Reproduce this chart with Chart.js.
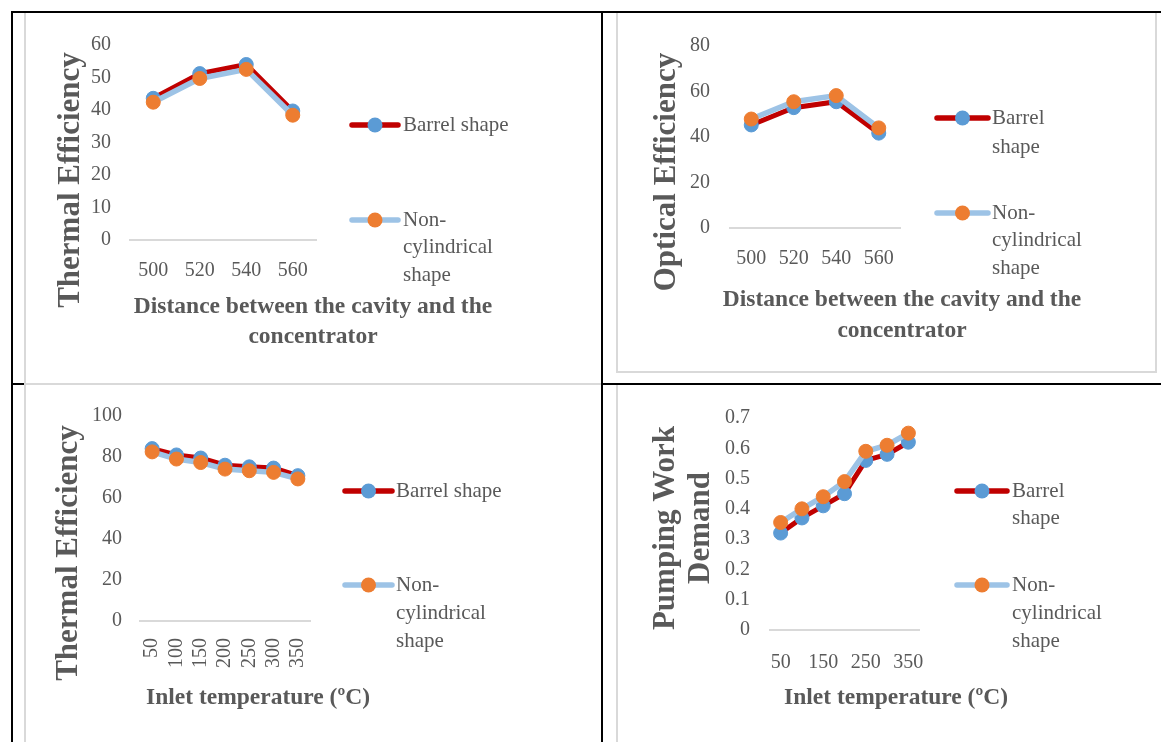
<!DOCTYPE html>
<html>
<head>
<meta charset="utf-8">
<script src="https://cdn.jsdelivr.net/npm/chart.js@4.4.1/dist/chart.umd.min.js"></script>
<style>
  body { margin: 0; background: #fff; }
  #page { position: relative; width: 1161px; height: 742px; overflow: hidden; }
  .rule { position: absolute; background: #000; }
  .frame { position: absolute; box-sizing: border-box; border: 0 solid #d9d9d9; }
  canvas { position: absolute; }
</style>
</head>
<body>
<div id="page">
  <!-- table lines -->
  <div class="rule" style="left:11px;top:11px;width:1150px;height:2px"></div>
  <div class="rule" style="left:11px;top:383px;width:1150px;height:2px"></div>
  <div class="rule" style="left:11px;top:11px;width:2px;height:731px"></div>
  <div class="rule" style="left:601px;top:11px;width:2px;height:731px"></div>
  <!-- chart area frames -->
  <div class="frame" style="left:24px;top:13px;width:577px;height:370px;border-left-width:2px"></div>
  <div class="frame" style="left:616px;top:13px;width:541px;height:360px;border-width:0 2px 2px 2px"></div>
  <div class="frame" style="left:24px;top:383px;width:577px;height:359px;border-left-width:2px;border-top-width:2px"></div>
  <div class="frame" style="left:616px;top:385px;width:545px;height:357px;border-left-width:2px"></div>

  <canvas id="thermal_dist" width="574" height="368" style="left:26px;top:14px"></canvas>
  <canvas id="optical_dist" width="536" height="356" style="left:618px;top:14px"></canvas>
  <canvas id="thermal_temp" width="574" height="356" style="left:26px;top:386px"></canvas>
  <canvas id="pump_temp" width="543" height="356" style="left:618px;top:386px"></canvas>
</div>
<script>
// data
const dist_labels = ["500", "520", "540", "560"];
const thermal_dist_barrel = [43.6, 51.2, 54.0, 39.7];
const thermal_dist_noncyl = [42.4, 49.7, 52.5, 38.4];
const optical_dist_barrel = [45.3, 52.9, 55.5, 41.7];
const optical_dist_noncyl = [47.9, 55.5, 58.2, 44.0];

const temp_labels = ["50", "100", "150", "200", "250", "300", "350"];
const thermal_temp_barrel = [84.1, 81.0, 79.5, 76.0, 75.2, 74.6, 70.9];
const thermal_temp_noncyl = [82.5, 79.0, 77.3, 74.1, 73.3, 72.5, 69.3];
const pump_temp_barrel = [0.32, 0.37, 0.41, 0.45, 0.56, 0.58, 0.62];
const pump_temp_noncyl = [0.355, 0.40, 0.44, 0.49, 0.59, 0.61, 0.65];

const series_names = ["Barrel shape", "Non-cylindrical shape"];

const FONT = '"Liberation Serif", "Times New Roman", serif';
const TEXT_COLOR = "#595959";
const BARREL_LINE = "#c00000";
const BARREL_DOT = "#5b9bd5";
const NONCYL_LINE = "#9dc3e6";
const NONCYL_DOT = "#ed7d31";

// titles and the wrapped legend are drawn by hand, Excel style
const side_text = {
  id: "side_text",
  afterDraw(chart, args, opts) {
    const ctx = chart.ctx;
    ctx.save();
    ctx.fillStyle = TEXT_COLOR;
    ctx.textAlign = "center";
    ctx.textBaseline = "middle";

    ctx.font = "bold 31px " + FONT;
    opts.y_title.forEach(t => {
      ctx.save();
      ctx.translate(t.x, t.y);
      ctx.rotate(-Math.PI / 2);
      ctx.fillText(t.text, 0, 0);
      ctx.restore();
    });

    ctx.font = "bold 23.5px " + FONT;
    opts.x_title.forEach(t => ctx.fillText(t.text, t.x, t.y));

    // legend
    const lg = opts.legend;
    ctx.font = "21px " + FONT;
    ctx.textAlign = "left";
    chart.data.datasets.forEach((ds, i) => {
      const item = lg.items[i];
      const ys = item.y;
      ctx.strokeStyle = ds.borderColor;
      ctx.lineWidth = 5.5;
      ctx.lineCap = "round";
      ctx.beginPath();
      ctx.moveTo(lg.x0, ys[0]);
      ctx.lineTo(lg.x1, ys[0]);
      ctx.stroke();
      ctx.fillStyle = ds.pointBackgroundColor;
      ctx.beginPath();
      ctx.arc((lg.x0 + lg.x1) / 2, ys[0], ds.pointRadius + 0.5, 0, Math.PI * 2);
      ctx.fill();
      ctx.fillStyle = TEXT_COLOR;
      item.lines.forEach((line, k) => ctx.fillText(line, lg.text_x, ys[k]));
    });
    ctx.restore();
  }
};

function makeChart(canvas_id, cfg) {
  const canvas = document.getElementById(canvas_id);
  const W = canvas.width, H = canvas.height;
  const area = cfg.area;
  return new Chart(canvas, {
    type: "line",
    data: {
      labels: cfg.labels,
      datasets: [
        {
          label: series_names[0],
          data: cfg.barrel,
          borderColor: BARREL_LINE,
          borderWidth: 5,
          pointBackgroundColor: BARREL_DOT,
          pointBorderColor: BARREL_DOT,
          pointBorderWidth: 1,
          pointRadius: 7,
          tension: 0,
          order: 2
        },
        {
          label: series_names[1],
          data: cfg.noncyl,
          borderColor: NONCYL_LINE,
          borderWidth: 5.5,
          pointBackgroundColor: NONCYL_DOT,
          pointBorderColor: NONCYL_DOT,
          pointBorderWidth: 1,
          pointRadius: 7,
          tension: 0,
          order: 1
        }
      ]
    },
    options: {
      responsive: false,
      devicePixelRatio: 1,
      animation: false,
      events: [],
      layout: { padding: { top: area.top, right: W - area.right, left: 0, bottom: 0 } },
      plugins: {
        legend: { display: false },
        tooltip: { enabled: false },
        side_text: { y_title: cfg.y_title, x_title: cfg.x_title, legend: cfg.legend }
      },
      scales: {
        x: {
          offset: true,
          grid: { display: false },
          border: { display: true, color: "#d9d9d9", width: 2 },
          ticks: {
            color: TEXT_COLOR,
            font: { family: FONT, size: 20 },
            padding: cfg.x_pad,
            autoSkip: false,
            minRotation: cfg.x_rotate,
            maxRotation: cfg.x_rotate,
            callback: function (val, idx) {
              return idx % cfg.x_every === 0 ? this.getLabelForValue(val) : "";
            }
          },
          afterFit(scale) { scale.height = H - area.bottom; }
        },
        y: {
          min: cfg.y_min,
          max: cfg.y_max,
          grid: { display: false, drawTicks: false },
          border: { display: false },
          ticks: {
            stepSize: cfg.y_step,
            color: TEXT_COLOR,
            font: { family: FONT, size: 20 },
            padding: cfg.y_pad
          },
          afterFit(scale) { scale.width = area.left; }
        }
      }
    },
    plugins: [side_text]
  });
}

makeChart("thermal_dist", {
  labels: dist_labels,
  barrel: thermal_dist_barrel,
  noncyl: thermal_dist_noncyl,
  y_min: 0, y_max: 60, y_step: 10,
  area: { left: 104, top: 28, right: 290, bottom: 226 },
  x_pad: 11, y_pad: 19, x_rotate: 0, x_every: 1,
  y_title: [{ text: "Thermal Efficiency", x: 45, y: 166 }],
  x_title: [
    { text: "Distance between the cavity and the", x: 287, y: 293 },
    { text: "concentrator", x: 287, y: 323 }
  ],
  legend: {
    x0: 326, x1: 372, text_x: 377,
    items: [
      { lines: ["Barrel shape"], y: [111] },
      { lines: ["Non-", "cylindrical", "shape"], y: [206, 233, 261] }
    ]
  }
});

makeChart("optical_dist", {
  labels: dist_labels,
  barrel: optical_dist_barrel,
  noncyl: optical_dist_noncyl,
  y_min: 0, y_max: 80, y_step: 20,
  area: { left: 112, top: 28, right: 282, bottom: 214 },
  x_pad: 11, y_pad: 20, x_rotate: 0, x_every: 1,
  y_title: [{ text: "Optical Efficiency", x: 49, y: 158 }],
  x_title: [
    { text: "Distance between the cavity and the", x: 284, y: 286 },
    { text: "concentrator", x: 284, y: 317 }
  ],
  legend: {
    x0: 319, x1: 370, text_x: 374,
    items: [
      { lines: ["Barrel", "shape"], y: [104, 133] },
      { lines: ["Non-", "cylindrical", "shape"], y: [199, 226, 254] }
    ]
  }
});

makeChart("thermal_temp", {
  labels: temp_labels,
  barrel: thermal_temp_barrel,
  noncyl: thermal_temp_noncyl,
  y_min: 0, y_max: 100, y_step: 20,
  area: { left: 114, top: 29, right: 284, bottom: 235 },
  x_pad: 9, y_pad: 18, x_rotate: 90, x_every: 1,
  y_title: [{ text: "Thermal Efficiency", x: 43, y: 167 }],
  x_title: [{ text: "Inlet temperature (ºC)", x: 232, y: 312 }],
  legend: {
    x0: 319, x1: 366, text_x: 370,
    items: [
      { lines: ["Barrel shape"], y: [105] },
      { lines: ["Non-", "cylindrical", "shape"], y: [199, 227, 255] }
    ]
  }
});

makeChart("pump_temp", {
  labels: temp_labels,
  barrel: pump_temp_barrel,
  noncyl: pump_temp_noncyl,
  y_min: 0, y_max: 0.7, y_step: 0.1,
  area: { left: 152, top: 27, right: 301, bottom: 244 },
  x_pad: 13, y_pad: 20, x_rotate: 0, x_every: 2,
  y_title: [
    { text: "Pumping Work", x: 48, y: 142 },
    { text: "Demand", x: 83, y: 142 }
  ],
  x_title: [{ text: "Inlet temperature (ºC)", x: 278, y: 312 }],
  legend: {
    x0: 339, x1: 389, text_x: 394,
    items: [
      { lines: ["Barrel", "shape"], y: [105, 132] },
      { lines: ["Non-", "cylindrical", "shape"], y: [199, 227, 255] }
    ]
  }
});
</script>
</body>
</html>
